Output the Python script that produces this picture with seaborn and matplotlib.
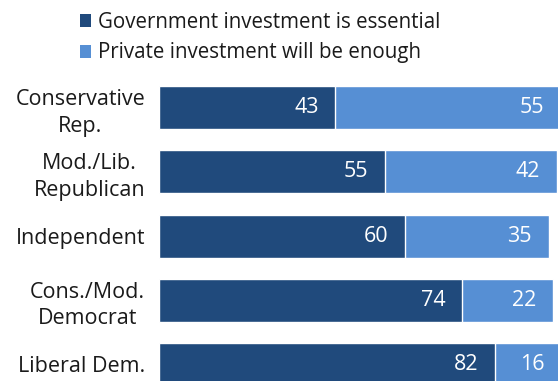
import matplotlib
matplotlib.use("Agg")
import matplotlib.pyplot as plt
import seaborn as sns
import pandas as pd
from matplotlib.patches import Patch

# Survey responses by political group (percent)
groups = ["Conservative\nRep.", "Mod./Lib.\nRepublican", "Independent",
          "Cons./Mod.\nDemocrat", "Liberal Dem."]
government_essential = [43, 55, 60, 74, 82]
private_enough = [55, 42, 35, 22, 16]
series_names = ["Government investment is essential",
                "Private investment will be enough"]

dark_blue = "#204a7c"
light_blue = "#568fd4"

sns.set_theme(style="white")
plt.rcParams["font.family"] = ["Open Sans", "DejaVu Sans"]

df = pd.DataFrame({
    "group": groups,
    "gov": government_essential,
    "priv": private_enough,
})
df["total"] = df["gov"] + df["priv"]

W, H, DPI = 558, 381, 100
fig = plt.figure(figsize=(W / DPI, H / DPI), dpi=DPI)

left_px = 159
ax = fig.add_axes([left_px / W, 0, 1 - left_px / W, 1])

bar_w = 0.67
sns.barplot(data=df, y="group", x="total", color=light_blue, width=bar_w,
            saturation=1, ax=ax, orient="h")
sns.barplot(data=df, y="group", x="gov", color=dark_blue, width=bar_w,
            saturation=1, ax=ax, orient="h")

# scale: ~4.1 px per percentage point, right edge of canvas clips the bars
px_per_unit = 4.1
ax.set_xlim(0, (W - left_px) / px_per_unit)
row_px = 64.15
first_center_px = 107.8
ax.set_ylim((H - first_center_px) / row_px, -first_center_px / row_px)

val_fs = 15.5
for i, (g, p) in enumerate(zip(df["gov"], df["priv"])):
    ax.annotate(f"{g}", xy=(g, i), xytext=(-16.5, 0), textcoords="offset pixels",
                ha="right", va="center", color="white", fontsize=val_fs,
                annotation_clip=False)
    ax.annotate(f"{p}", xy=(g + p, i), xytext=(-16.5, 0), textcoords="offset pixels",
                ha="right", va="center", color="white", fontsize=val_fs,
                annotation_clip=False)

ax.set_xlabel("")
ax.set_ylabel("")
ax.set_xticks([])
ax.tick_params(axis="y", length=0, pad=10, labelsize=15.5, labelcolor="#1a1a1a")
for lbl in ax.get_yticklabels():
    lbl.set_multialignment("center")
    lbl.set_linespacing(1.35)
for s in ax.spines.values():
    s.set_visible(False)

handles = [Patch(facecolor=dark_blue, edgecolor="none"),
           Patch(facecolor=light_blue, edgecolor="none")]
fig.legend(handles, series_names, loc="upper left",
           bbox_to_anchor=(74 / W, 1 - 6 / H), frameon=False, fontsize=14.8,
           handlelength=0.55, handleheight=0.6, handletextpad=0.3,
           labelspacing=0.45, borderaxespad=0, borderpad=0.3,
           labelcolor="#1a1a1a")

fig.savefig("out.png", dpi=DPI)
